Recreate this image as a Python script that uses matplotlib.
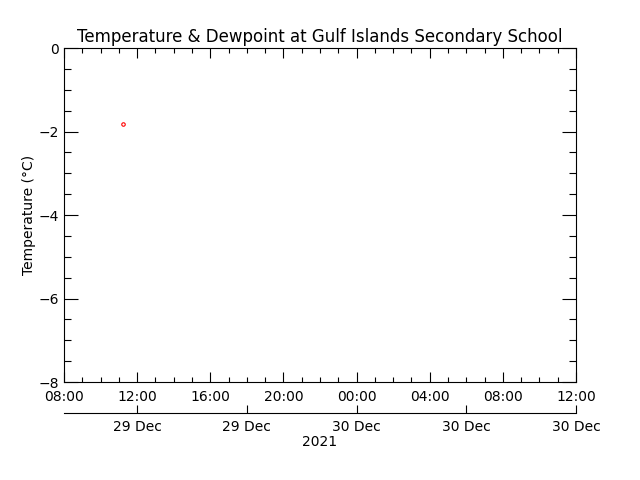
import datetime as dt
import matplotlib
matplotlib.use("Agg")
import matplotlib.pyplot as plt
import matplotlib.dates as mdates
from matplotlib.ticker import MultipleLocator

# observations (only one temperature reading in the window)
obs_times = [dt.datetime(2021, 12, 29, 11, 14)]
temperature = [-1.82]

x_start = dt.datetime(2021, 12, 29, 8, 0)
x_end = dt.datetime(2021, 12, 30, 12, 0)
date_ticks = [dt.datetime(2021, 12, 29, 12), dt.datetime(2021, 12, 29, 18),
              dt.datetime(2021, 12, 30, 0), dt.datetime(2021, 12, 30, 6),
              dt.datetime(2021, 12, 30, 12)]
date_labels = ["29 Dec", "29 Dec", "30 Dec", "30 Dec", "30 Dec"]

plt.rcParams['font.family'] = ['DejaVu Sans']
fig = plt.figure(figsize=(6.4, 4.8), dpi=100)
ax = fig.add_axes([0.1, 0.204, 0.8, 0.696])

ax.plot(obs_times, temperature, 'o', ms=2.5, mfc='none', mec='red', mew=0.8)

ax.set_xlim(x_start, x_end)
ax.set_ylim(-8, 0)
ax.xaxis.set_major_locator(mdates.HourLocator(byhour=range(0, 24, 4)))
ax.xaxis.set_minor_locator(mdates.HourLocator())
ax.xaxis.set_major_formatter(mdates.DateFormatter('%H:%M'))
ax.yaxis.set_major_locator(MultipleLocator(2))
ax.yaxis.set_minor_locator(MultipleLocator(0.5))
ax.tick_params(which='both', direction='in', top=True, right=True, labelsize=10, width=0.8)
ax.tick_params(axis='y', which='major', length=10)
ax.tick_params(axis='y', which='minor', length=5)
ax.tick_params(axis='x', which='major', length=7)
ax.tick_params(axis='x', which='minor', length=3.5)
ax.tick_params(axis='x', pad=6)
for s in ax.spines.values():
    s.set_linewidth(0.8)
ax.set_ylabel('Temperature (°C)', fontsize=10)
ax.yaxis.set_label_coords(-0.055, 0.5)
ax.set_title('Temperature & Dewpoint at Gulf Islands Secondary School', fontsize=12, pad=4)

# secondary date axis below
ax2 = fig.add_axes([0.1, 1 - 413 / 480, 0.8, 0.0001])
ax2.set_xlim(x_start, x_end)
ax2.set_xticks(date_ticks)
ax2.set_xticklabels(date_labels)
ax2.set_yticks([])
for side in ['top', 'left', 'right']:
    ax2.spines[side].set_visible(False)
ax2.spines['bottom'].set_linewidth(0.8)
ax2.patch.set_visible(False)
ax2.tick_params(axis='x', direction='in', length=6, width=0.8, labelsize=10, pad=5)
ax2.set_xlabel('2021', fontsize=10, labelpad=1)

fig.savefig('out.png', dpi=100)
